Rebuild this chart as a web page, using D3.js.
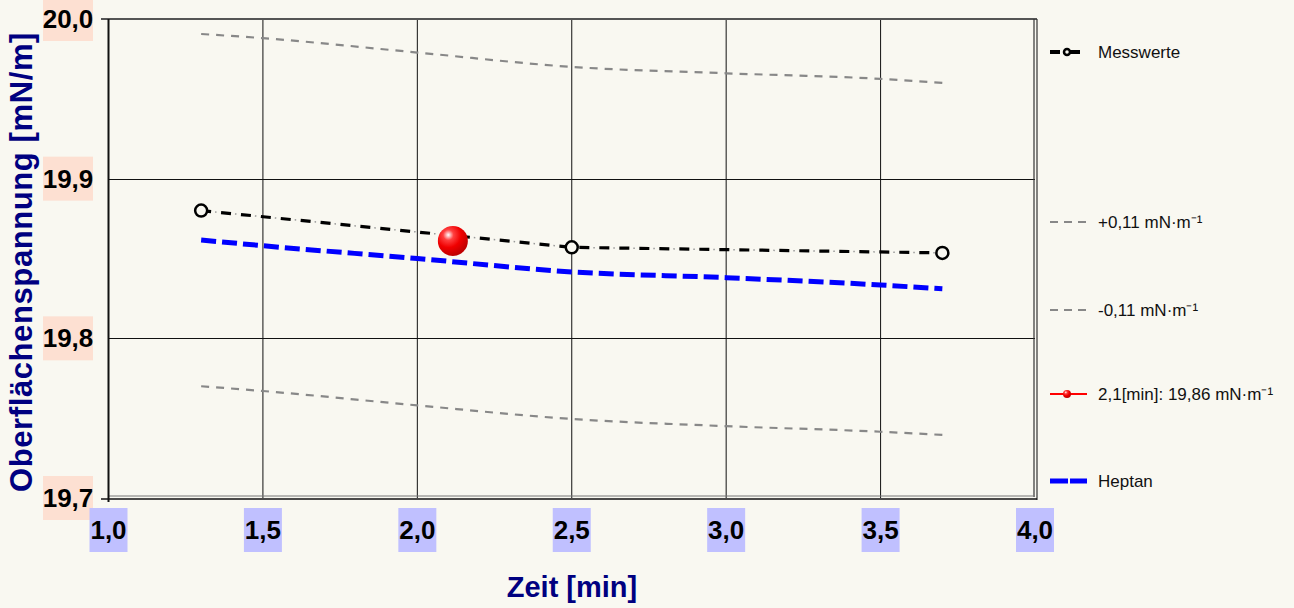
<!DOCTYPE html>
<html>
<head>
<meta charset="utf-8">
<script src="https://cdn.jsdelivr.net/npm/d3@7"></script>
<style>
  body { margin: 0; background: #f9f8f1; }
  svg { display: block; }
</style>
</head>
<body>
<svg id="chart" width="1294" height="608"></svg>
<script>
const xTicks = [1.0, 1.5, 2.0, 2.5, 3.0, 3.5, 4.0];
const yTicks = [19.7, 19.8, 19.9, 20.0];

// Messwerte (measured points)
const messX = [1.3, 2.5, 3.7];
const messY = [19.880, 19.857, 19.8535];

// tolerance band +/-0.11
const bandX = [1.3, 1.5, 2.0, 2.5, 3.0, 3.5, 3.7];
const upperY = [19.9906, 19.988, 19.979, 19.970, 19.966, 19.9625, 19.960];
const lowerY = [19.770, 19.767, 19.758, 19.7495, 19.745, 19.7415, 19.7395];

// Heptan reference curve
const heptanX = [1.3, 1.5, 2.0, 2.5, 3.0, 3.5, 3.7];
const heptanY = [19.8616, 19.858, 19.850, 19.8416, 19.838, 19.8334, 19.831];

// selected point
const pickX = [2.115];
const pickY = [19.861];

const legendLabels = ["Messwerte", "+0,11 mN·m⁻¹", "-0,11 mN·m⁻¹", "2,1[min]: 19,86 mN·m⁻¹", "Heptan"];

const svg = d3.select("#chart");
const x = d3.scaleLinear().domain([1, 4]).range([108.5, 1035]);
const y = d3.scaleLinear().domain([19.7, 20.0]).range([498, 19]);

const defs = svg.append("defs");
const grad = defs.append("radialGradient").attr("id", "ball")
  .attr("cx", "35%").attr("cy", "30%").attr("r", "70%");
grad.append("stop").attr("offset", "0%").attr("stop-color", "#ffffff");
grad.append("stop").attr("offset", "25%").attr("stop-color", "#ff4040");
grad.append("stop").attr("offset", "60%").attr("stop-color", "#f00000");
grad.append("stop").attr("offset", "100%").attr("stop-color", "#c00000");

// grid
svg.append("g").selectAll("line").data(xTicks.slice(1, -1)).join("line")
  .attr("x1", d => x(d)).attr("x2", d => x(d))
  .attr("y1", y(20)).attr("y2", y(19.7))
  .attr("stroke", "#111").attr("stroke-width", 1);
svg.append("g").selectAll("line").data(yTicks.slice(1, -1)).join("line")
  .attr("x1", x(1)).attr("x2", x(4))
  .attr("y1", d => Math.round(y(d)) + 0.5).attr("y2", d => Math.round(y(d)) + 0.5)
  .attr("stroke", "#111").attr("stroke-width", 1);

// frame
svg.append("line").attr("x1", 101).attr("x2", x(4) + 2).attr("y1", 19).attr("y2", 19)
  .attr("stroke", "#555").attr("stroke-width", 2);
svg.append("line").attr("x1", x(4) - 1).attr("x2", x(4) - 1).attr("y1", 19).attr("y2", 497)
  .attr("stroke", "#333").attr("stroke-width", 1.2);
svg.append("line").attr("x1", x(4) + 2).attr("x2", x(4) + 2).attr("y1", 19).attr("y2", 500)
  .attr("stroke", "#333").attr("stroke-width", 1.2);
svg.append("line").attr("x1", x(1)).attr("x2", x(4)).attr("y1", 496).attr("y2", 496)
  .attr("stroke", "#777").attr("stroke-width", 1);
svg.append("line").attr("x1", 101).attr("x2", x(4) + 2).attr("y1", 499).attr("y2", 499)
  .attr("stroke", "#111").attr("stroke-width", 1.5);
svg.append("line").attr("x1", x(1)).attr("x2", x(1)).attr("y1", 19).attr("y2", 502)
  .attr("stroke", "#111").attr("stroke-width", 2);

// y tick labels
const yl = svg.append("g").selectAll("g").data(yTicks).join("g")
  .attr("transform", d => `translate(68,${y(d)})`);
yl.append("rect").attr("x", -25).attr("y", -22).attr("width", 50).attr("height", 44).attr("fill", "#fde0d2");
yl.append("text").attr("text-anchor", "middle").attr("dy", 9)
  .attr("font-family", "'Liberation Sans Narrow', 'Liberation Sans', sans-serif")
  .attr("font-weight", "bold").attr("font-size", 26).attr("fill", "#000")
  .text(d => d3.format(".1f")(d).replace(".", ","));

// x tick labels
const xl = svg.append("g").selectAll("g").data(xTicks).join("g")
  .attr("transform", d => `translate(${x(d)},530)`);
xl.append("rect").attr("x", -19).attr("y", -22).attr("width", 38).attr("height", 44).attr("fill", "#c0c0ff");
xl.append("text").attr("text-anchor", "middle").attr("dy", 9)
  .attr("font-family", "'Liberation Sans Narrow', 'Liberation Sans', sans-serif")
  .attr("font-weight", "bold").attr("font-size", 26).attr("fill", "#000")
  .text(d => d3.format(".1f")(d).replace(".", ","));

// axis titles
svg.append("text").attr("transform", `translate(32,262) rotate(-90)`)
  .attr("text-anchor", "middle")
  .attr("font-family", "'Liberation Sans', Arial, sans-serif").attr("font-weight", "bold")
  .attr("font-size", 31).attr("letter-spacing", 0.6).attr("fill", "#000080")
  .text("Oberflächenspannung [mN/m]");
svg.append("text").attr("x", 572).attr("y", 597).attr("text-anchor", "middle")
  .attr("font-family", "'Liberation Sans', Arial, sans-serif").attr("font-weight", "bold")
  .attr("font-size", 29).attr("fill", "#000080")
  .text("Zeit [min]");

const line = d3.line().x(d => x(d[0])).y(d => y(d[1]));

// band lines
[upperY, lowerY].forEach(arr => {
  svg.append("path").datum(bandX.map((v, i) => [v, arr[i]]))
    .attr("d", line.curve(d3.curveMonotoneX)).attr("fill", "none")
    .attr("stroke", "#888").attr("stroke-width", 2.2).attr("stroke-dasharray", "8,7");
});

// heptan
svg.append("path").datum(heptanX.map((v, i) => [v, heptanY[i]]))
  .attr("d", line.curve(d3.curveMonotoneX)).attr("fill", "none")
  .attr("stroke", "#0000ff").attr("stroke-width", 5).attr("stroke-dasharray", "15,6");

// messwerte
const messData = messX.map((v, i) => [v, messY[i]]);
svg.append("path").datum(messData)
  .attr("d", line.curve(d3.curveLinear)).attr("fill", "none")
  .attr("stroke", "#999").attr("stroke-width", 1.5).attr("stroke-dasharray", "1.5,18.5")
  .attr("stroke-dashoffset", -14);
svg.append("path").datum(messData)
  .attr("d", line.curve(d3.curveLinear)).attr("fill", "none")
  .attr("stroke", "#000").attr("stroke-width", 3.2).attr("stroke-dasharray", "10,10");
svg.append("g").selectAll("circle").data(messData).join("circle")
  .attr("cx", d => x(d[0])).attr("cy", d => y(d[1])).attr("r", 6)
  .attr("fill", "#f9f8f1").attr("stroke", "#000").attr("stroke-width", 2.5);

// selected point
svg.append("g").selectAll("circle").data(pickX.map((v, i) => [v, pickY[i]])).join("circle")
  .attr("cx", d => x(d[0])).attr("cy", d => y(d[1])).attr("r", 15)
  .attr("fill", "url(#ball)");

// legend
const legY = [52, 222, 310, 394, 481];
const lg = svg.append("g").selectAll("g").data(legendLabels).join("g")
  .attr("transform", (d, i) => `translate(1050,${legY[i]})`);
lg.append("text").attr("x", 48).attr("dy", 6)
  .attr("font-family", "'Liberation Sans', Arial, sans-serif").attr("font-size", 17).attr("fill", "#111")
  .text(d => d);
lg.each(function(d, i) {
  const g = d3.select(this);
  if (i === 0) {
    g.append("line").attr("x1", 0).attr("x2", 10).attr("stroke", "#000").attr("stroke-width", 4);
    g.append("line").attr("x1", 20).attr("x2", 30).attr("stroke", "#000").attr("stroke-width", 4);
    g.append("circle").attr("cx", 17).attr("r", 3).attr("fill", "none").attr("stroke", "#000").attr("stroke-width", 2.5);
  } else if (i === 1 || i === 2) {
    g.append("line").attr("x1", 0).attr("x2", 37).attr("stroke", "#888").attr("stroke-width", 2.2)
      .attr("stroke-dasharray", "8,6");
  } else if (i === 3) {
    g.append("line").attr("x1", 0).attr("x2", 37).attr("stroke", "#ff0000").attr("stroke-width", 2);
    g.append("circle").attr("cx", 17).attr("r", 4).attr("fill", "url(#ball)");
  } else {
    g.append("line").attr("x1", 0).attr("x2", 37).attr("stroke", "#0000ff").attr("stroke-width", 5)
      .attr("stroke-dasharray", "18,2");
  }
});
</script>
</body>
</html>
